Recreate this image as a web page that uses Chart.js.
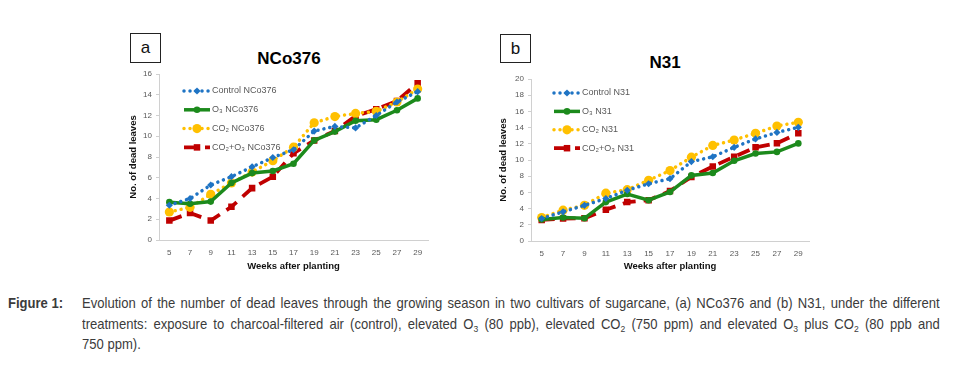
<!DOCTYPE html>
<html>
<head>
<meta charset="utf-8">
<script src="https://cdn.jsdelivr.net/npm/chart.js@4.4.0/dist/chart.umd.min.js"></script>
<style>
  html, body { margin: 0; padding: 0; background: #fff; }
  body { width: 953px; height: 372px; position: relative; overflow: hidden; font-family: "Liberation Sans", Arial, sans-serif; }
  .cv { position: absolute; }
  .box { position: absolute; border: 1px solid #222; box-sizing: border-box; font: 17px "Liberation Sans", Arial, sans-serif; color: #111; display: flex; align-items: center; justify-content: center; }
  .ttl { position: absolute; font: bold 17px "Liberation Sans", Arial, sans-serif; color: #000; transform: translate(-50%, -50%); white-space: nowrap; }
  .cap { position: absolute; font-family: "Liberation Sans", Arial, sans-serif; font-size: 14.5px; line-height: 20.5px; color: #3b3b3b; transform-origin: 0 0; transform: scaleX(0.9); white-space: nowrap; }
  .lab { font-weight: bold; }
  .ln { width: 953px; text-align: justify; text-align-last: justify; }
  .ln.last { text-align-last: left; }
  sub { font-size: 9.5px; vertical-align: -3px; line-height: 0; }
</style>
</head>
<body>
<div class="box" style="left:130px;top:33px;width:31px;height:30px;">a</div>
<div class="box" style="left:500px;top:34px;width:31px;height:29px;">b</div>
<div class="ttl" style="left:289px;top:59px;">NCo376</div>
<div class="ttl" style="left:665px;top:63px;">N31</div>
<canvas id="ca" class="cv" style="left:100px;top:60px;" width="340" height="225"></canvas>
<canvas id="cb" class="cv" style="left:470px;top:60px;" width="350" height="225"></canvas>
<div class="cap lab" style="left:8px;top:293px;">Figure 1:</div>
<div class="cap" style="left:82px;top:293px;">
  <div class="ln">Evolution of the number of dead leaves through the growing season in two cultivars of sugarcane, (a) NCo376 and (b) N31, under the different</div>
  <div class="ln">treatments: exposure to charcoal-filtered air (control), elevated O<sub>3</sub> (80 ppb), elevated CO<sub>2</sub> (750 ppm) and elevated O<sub>3</sub> plus CO<sub>2</sub> (80 ppb and</div>
  <div class="ln last">750 ppm).</div>
</div>
<script>
// ---- data ----
const weeks = ["5","7","9","11","13","15","17","19","21","23","25","27","29"];

const controlNCo376 = [3.35, 4.0, 5.3, 6.1, 7.05, 7.95, 8.7, 10.5, 10.95, 10.8, 12.0, 13.3, 14.3];
const o3NCo376      = [3.65, 3.5, 3.7, 5.5, 6.45, 6.65, 7.35, 9.6, 10.45, 11.5, 11.6, 12.5, 13.65];
const co2NCo376     = [2.7, 3.15, 4.4, 5.5, 6.55, 7.65, 8.95, 11.3, 11.9, 12.2, 12.4, 13.3, 14.55];
const co2o3NCo376   = [1.87, 2.6, 1.87, 3.2, 5.0, 6.1, 8.35, 9.6, 10.5, 11.95, 12.6, 13.4, 15.1];

const controlN31 = [2.78, 3.6, 4.4, 5.25, 6.26, 7.07, 7.7, 9.8, 10.4, 11.57, 12.6, 13.4, 14.03];
const o3N31      = [2.66, 2.9, 2.8, 4.8, 5.8, 5.03, 6.05, 8.1, 8.4, 9.9, 10.8, 11.0, 12.05];
const co2N31     = [2.9, 3.8, 4.4, 5.9, 6.34, 7.5, 8.7, 10.35, 11.8, 12.47, 13.3, 14.2, 14.65];
const co2o3N31   = [2.6, 2.78, 2.8, 3.85, 4.8, 5.03, 6.17, 7.9, 9.2, 10.4, 11.57, 12.06, 13.3];

const yTicksA = { min: 0, max: 16, step: 2 };
const yTicksB = { min: 0, max: 20, step: 2 };

const namesA = ["Control NCo376", "O\u2083 NCo376", "CO\u2082 NCo376", "CO\u2082+O\u2083 NCo376"];
const namesB = ["Control N31", "O\u2083 N31", "CO\u2082 N31", "CO\u2082+O\u2083 N31"];

// ---- styles ----
const BLUE = "#1F74C4", GREEN = "#1C8A1C", GOLD = "#FFC000", RED = "#C00000";

function makeSets(names, c, o, co, cc) {
  return [
    { label: names[0], data: c, borderColor: BLUE, backgroundColor: BLUE, borderWidth: 3.5,
      borderDash: [0.01, 6], borderCapStyle: "round", pointStyle: "rectRot", pointRadius: 3.6, pointBorderWidth: 0, tension: 0 },
    { label: names[1], data: o, borderColor: GREEN, backgroundColor: GREEN, borderWidth: 3.5,
      pointStyle: "circle", pointRadius: 3.3, pointBorderWidth: 0, tension: 0 },
    { label: names[2], data: co, borderColor: GOLD, backgroundColor: GOLD, borderWidth: 3.5,
      borderDash: [0.01, 6], borderCapStyle: "round", pointStyle: "circle", pointRadius: 4.6, pointBorderWidth: 0, tension: 0 },
    { label: names[3], data: cc, borderColor: RED, backgroundColor: RED, borderWidth: 3.8,
      borderDash: [13, 8], pointStyle: "rect", pointRadius: 4.6, pointBorderWidth: 0, tension: 0 }
  ];
}

const innerLegend = {
  id: "innerLegend",
  afterDraw(chart, args, opts) {
    const ctx = chart.ctx;
    const ca = chart.chartArea;
    ctx.save();
    chart.data.datasets.forEach((ds, i) => {
      const y = ca.top + opts.y + i * opts.gap;
      const x0 = ca.left + opts.x, x1 = x0 + 26;
      ctx.save();
      ctx.strokeStyle = ds.borderColor;
      ctx.lineWidth = ds.borderWidth;
      ctx.lineCap = ds.borderCapStyle || "butt";
      ctx.setLineDash(ds.borderDash || []);
      ctx.beginPath(); ctx.moveTo(x0, y); ctx.lineTo(x1, y); ctx.stroke();
      ctx.restore();
      ctx.save();
      ctx.fillStyle = ds.backgroundColor;
      ctx.strokeStyle = ds.backgroundColor;
      ctx.lineWidth = 0.01;
      Chart.helpers.drawPoint(ctx, { pointStyle: ds.pointStyle, radius: ds.pointRadius, borderWidth: 0.01, rotation: 0 }, (x0 + x1) / 2, y);
      ctx.restore();
      ctx.fillStyle = "#595959";
      ctx.font = "9px 'Liberation Sans', Arial, sans-serif";
      ctx.textBaseline = "middle";
      ctx.fillText(ds.label, x1 + 2, y);
    });
    ctx.restore();
  }
};

function makeChart(id, sets, yt, yW, xH, pad, legend) {
  return new Chart(document.getElementById(id), {
    type: "line",
    data: { labels: weeks, datasets: sets },
    plugins: [innerLegend],
    options: {
      responsive: false, animation: false,
      layout: { padding: pad },
      plugins: { legend: { display: false }, tooltip: { enabled: false }, title: { display: false }, innerLegend: legend },
      scales: {
        x: {
          offset: true,
          grid: { display: false, drawTicks: false },
          border: { color: "#D0D0D0", width: 1 },
          ticks: { color: "#595959", font: { size: 8, family: "Liberation Sans" }, padding: 8, maxRotation: 0, autoSkip: false },
          title: { display: true, text: "Weeks after planting", color: "#111", font: { size: 9.5, weight: "bold", family: "Liberation Sans" }, padding: { top: 2, bottom: 0 } },
          afterFit(s) { s.height = xH; }
        },
        y: {
          min: yt.min, max: yt.max,
          grid: { display: true, drawOnChartArea: false, tickLength: 3, color: "#D0D0D0" },
          border: { color: "#D0D0D0", width: 1 },
          ticks: { stepSize: yt.step, color: "#595959", font: { size: 8, family: "Liberation Sans" }, padding: 4 },
          title: { display: true, text: "No. of dead leaves", color: "#111", font: { size: 9.5, weight: "bold", family: "Liberation Sans" }, padding: { top: 0, bottom: 6 } },
          afterFit(s) { s.width = yW; }
        }
      }
    }
  });
}

makeChart("ca", makeSets(namesA, controlNCo376, o3NCo376, co2NCo376, co2o3NCo376), yTicksA, 31, 32, { top: 14, right: 12, left: 28, bottom: 13 }, { x: 25, y: 17, gap: 18.8 });
makeChart("cb", makeSets(namesB, controlN31, o3N31, co2N31, co2o3N31), yTicksB, 33, 31, { top: 19, right: 11, left: 28, bottom: 13 }, { x: 23, y: 14, gap: 18.4 });
</script>
</body>
</html>
